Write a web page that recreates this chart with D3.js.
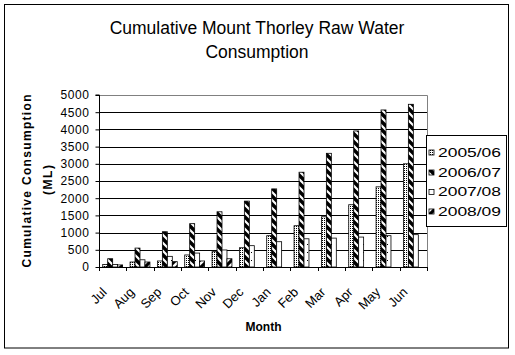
<!DOCTYPE html>
<html><head><meta charset="utf-8">
<script src="https://cdn.jsdelivr.net/npm/d3@7"></script>
<style>body{margin:0;background:#fff}svg{display:block}text{font-family:Arial,"Liberation Sans",sans-serif}</style>
</head><body>
<svg id="c" width="515" height="355"></svg>
<script>
const months = ["Jul","Aug","Sep","Oct","Nov","Dec","Jan","Feb","Mar","Apr","May","Jun"];
const seriesNames = ["2005/06","2006/07","2007/08","2008/09"];
const s2005 = [70,145,175,350,445,560,910,1200,1460,1810,2330,3000];
const s2006 = [240,550,1025,1260,1605,1915,2270,2755,3305,3955,4565,4730];
const s2007 = [70,210,310,405,495,620,735,820,840,870,910,940];
const s2008 = [60,145,155,175,240,null,null,null,null,null,null,null];
const yTicks = [0,500,1000,1500,2000,2500,3000,3500,4000,4500,5000];
const titleLines = ["Cumulative Mount Thorley Raw Water","Consumption"];

const svg = d3.select("#c");
const defs = svg.append("defs");
function pat(id,w,h,bg,draw){
  const p = defs.append("pattern").attr("id",id).attr("patternUnits","userSpaceOnUse").attr("width",w).attr("height",h);
  p.append("rect").attr("width",w).attr("height",h).attr("fill",bg);
  draw(p);
}
pat("p0",4,4,"#fff",p=>{
  [[0,0],[2,2],[2,0],[0,2]].forEach(([x,y])=>p.append("rect").attr("x",x).attr("y",y).attr("width",1).attr("height",1).attr("fill","#000"));
});
pat("p1",8,8,"#000",p=>{
  p.append("path").attr("d","M-1,-1L9,9M-1,7L1,9M7,-1L9,1").attr("stroke","#fff").attr("stroke-width",2.2);
});
pat("p2",8,8,"#fff",p=>{
  p.append("rect").attr("x",3).attr("y",4).attr("width",1).attr("height",1).attr("fill","#000");
});
pat("p3",8,8,"#000",p=>{
  p.append("path").attr("d","M-1,9L9,-1M-1,1L1,-1M7,9L9,7").attr("stroke","#fff").attr("stroke-width",2.6);
});
const fills = ["url(#p0)","url(#p1)","url(#p2)","url(#p3)"];
const data = [s2005,s2006,s2007,s2008];

svg.append("rect").attr("x",4.5).attr("y",4.5).attr("width",504).attr("height",343.5)
  .attr("fill","#fff").attr("stroke","#000");

const L=99, R=427, T=95, B=267;
const x0 = d3.scaleBand().domain(months).range([L,R]).padding(0);
const bw = x0.bandwidth()/5.5;
const x1 = d3.scaleBand().domain(seriesNames).range([0.75*bw, x0.bandwidth()-0.75*bw]).padding(0);
const y = d3.scaleLinear().domain([0,5000]).range([B,T]);

svg.append("g").selectAll("line").data(yTicks.filter(v=>v>0 && v<5000)).join("line")
  .attr("x1",L).attr("x2",R).attr("y1",d=>Math.round(y(d))+0.5).attr("y2",d=>Math.round(y(d))+0.5)
  .attr("stroke","#000");
svg.append("path").attr("d",`M${L},${T+0.5}H${R+0.5}V${B}`).attr("fill","none").attr("stroke","#808080");

seriesNames.forEach((s,i)=>{
  svg.append("g").selectAll("rect").data(months.map((m,j)=>({m,v:data[i][j]})).filter(d=>d.v!=null)).join("rect")
    .attr("x",d=>x0(d.m)+x1(s)).attr("width",x1.bandwidth())
    .attr("y",d=>y(d.v)).attr("height",d=>B-y(d.v))
    .attr("fill",fills[i]).attr("stroke","#000").attr("stroke-width",0.8);
});

const ya = svg.append("g").attr("transform",`translate(${L+0.5},0)`)
  .call(d3.axisLeft(y).tickValues(yTicks).tickSize(4).tickPadding(6).tickFormat(d3.format("d")));
ya.select(".domain").attr("stroke","#000").attr("d",`M-4,${T}H0V${B}`);
ya.selectAll("text").attr("font-size",12).attr("fill","#000").attr("font-family","Arial").style("letter-spacing","0.6px");
const xa = svg.append("g").attr("transform",`translate(0,${B+0.5})`)
  .call(d3.axisBottom(x0).tickSize(0).tickFormat(""));
xa.select(".domain").attr("stroke","#000").attr("d",`M${L},0H${R}`);
svg.append("g").selectAll("line").data(months.concat(["_end"])).join("line")
  .attr("x1",(d,i)=>Math.round(L+i*x0.bandwidth())+0.5).attr("x2",(d,i)=>Math.round(L+i*x0.bandwidth())+0.5)
  .attr("y1",B).attr("y2",B+4).attr("stroke","#000");
svg.append("g").selectAll("text").data(months).join("text")
  .attr("transform",d=>`translate(${x0(d)+x0.bandwidth()/2-5},${B+26}) rotate(-45)`)
  .attr("text-anchor","end").attr("font-size",13).text(d=>d);

svg.append("g").selectAll("text").data(titleLines).join("text")
  .attr("x",257).attr("y",(d,i)=>33.5+i*24.5).attr("text-anchor","middle").attr("font-size",17.5).text(d=>d);
svg.append("text").attr("transform","translate(30.5,181) rotate(-90)").attr("text-anchor","middle")
  .attr("font-size",12).attr("font-weight","bold").attr("textLength",173).attr("lengthAdjust","spacing").text("Cumulative Consumption");
svg.append("text").attr("transform","translate(51.5,180) rotate(-90)").attr("text-anchor","middle")
  .attr("font-size",12).attr("font-weight","bold").attr("textLength",30).attr("lengthAdjust","spacing").text("(ML)");
svg.append("text").attr("x",263.5).attr("y",330.5).attr("text-anchor","middle")
  .attr("font-size",12).attr("font-weight","bold").text("Month");

const lg = svg.append("g");
lg.append("rect").attr("x",426.5).attr("y",135.5).attr("width",80).attr("height",91).attr("fill","#fff").attr("stroke","#000");
const ly = [152.5,172.5,192,211.5];
seriesNames.forEach((s,i)=>{
  lg.append("rect").attr("x",429).attr("y",ly[i]-2.5).attr("width",5).attr("height",5).attr("fill",fills[i]).attr("stroke","#000").attr("stroke-width",0.8);
  lg.append("text").attr("x",438).attr("y",ly[i]+4.3).attr("font-size",12).attr("textLength",63).attr("lengthAdjust","spacingAndGlyphs").text(s);
});
</script>
</body></html>
